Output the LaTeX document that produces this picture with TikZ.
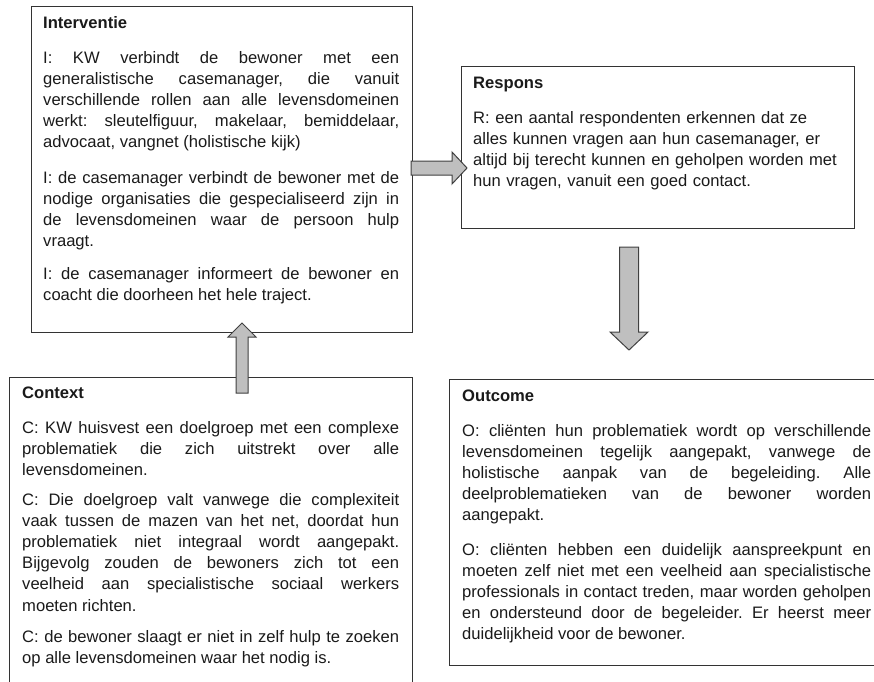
\documentclass[tikz,border=0pt]{standalone}
\usepackage{fontspec}
\setmainfont{Liberation Sans}
\tolerance=10000
\hbadness=10000
\hyphenpenalty=10000
\definecolor{boxline}{HTML}{333333}
\definecolor{arrowfill}{HTML}{BFBFBF}
\definecolor{arrowline}{HTML}{404040}
\definecolor{txtcol}{HTML}{1A1A1A}
\begin{document}
\begin{tikzpicture}[x=1pt,y=-1pt,
  frame/.style={draw=boxline, line width=1.1pt, inner sep=0pt, anchor=north west},
  txt/.style={anchor=base west, inner sep=0pt, text=txtcol, align=justify,
    font=\fontsize{16.6}{21.2}\selectfont\frenchspacing},
  hd/.style={anchor=base west, inner sep=0pt, text=txtcol,
    font=\fontsize{16.6}{21.2}\selectfont\bfseries},
  blk/.style={draw=arrowline, fill=arrowfill, line width=1pt, line join=miter}]
\useasboundingbox (0,0) rectangle (874,681);
\clip (0,0) rectangle (874,681);

% frames
\node[frame, minimum width=381pt, minimum height=326pt] (I) at (31,6) {};
\node[frame, minimum width=393pt, minimum height=162pt] (R) at (461,66) {};
\node[frame, minimum width=403pt, minimum height=330pt] (C) at (9,377) {};
\node[frame, minimum width=445pt, minimum height=286pt] (O) at (449,379) {};

% Interventie
\node[hd] (ih) at (43,28) {Interventie};
\node[txt, text width=356pt] (i1) at (43,63) {I: KW verbindt de bewoner met een\linebreak generalistische casemanager, die vanuit\linebreak verschillende rollen aan alle levensdomeinen\linebreak werkt: sleutelfiguur, makelaar, bemiddelaar,\linebreak advocaat, vangnet (holistische kijk)};
\node[txt, text width=356pt] (i2) at (43,183) {I: de casemanager verbindt de bewoner met de\linebreak nodige organisaties die gespecialiseerd zijn in\linebreak de levensdomeinen waar de persoon hulp\linebreak vraagt.};
\node[txt, text width=356pt] (i3) at (43,279) {I: de casemanager informeert de bewoner en\linebreak coacht die doorheen het hele traject.};

% Respons
\node[hd] (rh) at (473,88) {Respons};
\node[txt, text width=375pt, align=left] (r1) at (473,123) {R: een aantal respondenten erkennen dat ze\\ alles kunnen vragen aan hun casemanager, er\\ altijd bij terecht kunnen en geholpen worden met\\ hun vragen, vanuit een goed contact.};

% Context
\node[hd] (ch) at (22,398) {Context};
\node[txt, text width=377pt] (c1) at (22,433) {C: KW huisvest een doelgroep met een complexe\linebreak problematiek die zich uitstrekt over alle\linebreak levensdomeinen.};
\node[txt, text width=377pt] (c2) at (22,505) {C: Die doelgroep valt vanwege die complexiteit\linebreak vaak tussen de mazen van het net, doordat hun\linebreak problematiek niet integraal wordt aangepakt.\linebreak Bijgevolg zouden de bewoners zich tot een\linebreak veelheid aan specialistische sociaal werkers\linebreak moeten richten.};
\node[txt, text width=377pt] (c3) at (22,642) {C: de bewoner slaagt er niet in zelf hulp te zoeken\linebreak op alle levensdomeinen waar het nodig is.};

% Outcome
\node[hd] (oh) at (462,401) {Outcome};
\node[txt, text width=409pt] (o1) at (462,436) {O: cliënten hun problematiek wordt op verschillende\linebreak levensdomeinen tegelijk aangepakt, vanwege de\linebreak holistische aanpak van de begeleiding. Alle\linebreak deelproblematieken van de bewoner worden\linebreak aangepakt.};
\node[txt, text width=409pt] (o2) at (462,555) {O: cliënten hebben een duidelijk aanspreekpunt en\linebreak moeten zelf niet met een veelheid aan specialistische\linebreak professionals in contact treden, maar worden geholpen\linebreak en ondersteund door de begeleider. Er heerst meer\linebreak duidelijkheid voor de bewoner.};

% block arrows
\draw[blk] (411,161) -- (452,161) -- (452,152) -- (467,168) -- (452,184) -- (452,175) -- (411,175) -- cycle;
\draw[blk] (236,393) -- (236,337) -- (228,337) -- (242,323) -- (256,337) -- (248,337) -- (248,393) -- cycle;
\draw[blk] (619.5,247) -- (638.5,247) -- (638.5,332) -- (648,332) -- (629,350) -- (610,332) -- (619.5,332) -- cycle;
\end{tikzpicture}
\end{document}
